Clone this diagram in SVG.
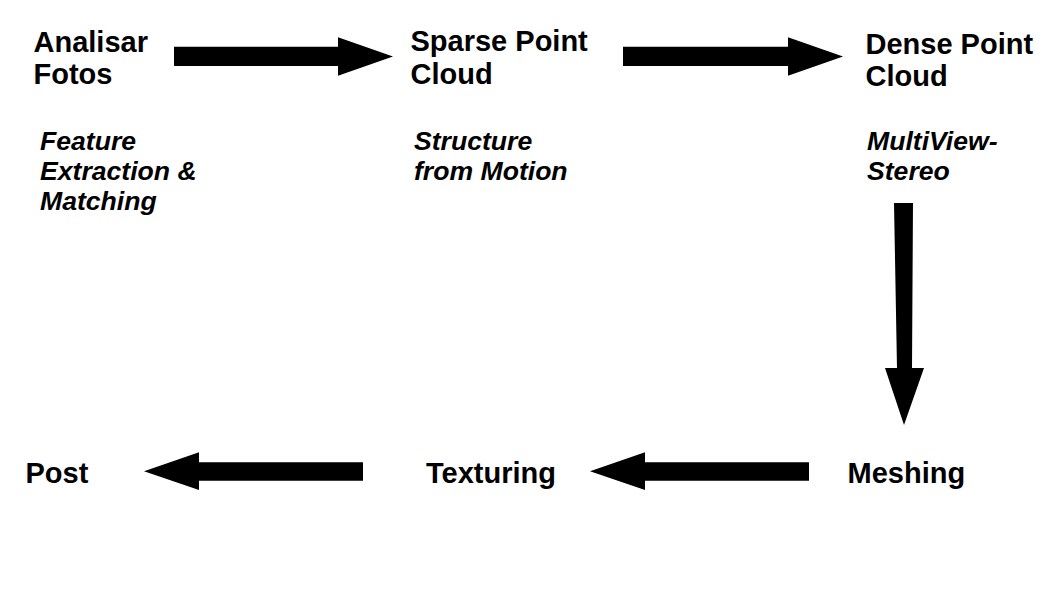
<svg xmlns="http://www.w3.org/2000/svg" width="1058" height="595" viewBox="0 0 1058 595">
<style>
.h{font-family:"Liberation Sans",Arial,sans-serif;font-weight:bold;font-size:29px;fill:#000}
.s{font-family:"Liberation Sans",Arial,sans-serif;font-weight:bold;font-style:italic;font-size:26.6px;fill:#000}
.a{fill:#000;stroke:none}
</style>
<rect width="1058" height="595" fill="#fff"/>
<g id="connectors">
<polygon class="a" points="174,46.7 338,46.7 338,37.3 393,56.5 338,75.7 338,66 174,66"/>
<polygon class="a" points="623,46.7 788,46.7 788,37.3 843,56.5 788,75.7 788,66 623,66"/>
<polygon class="a" points="894,203 913,203 912,368 924,368 904,425 885,368 897,368"/>
<polygon class="a" points="809,462.3 645,462.3 645,452.3 590,471.2 645,490 645,480.7 809,480.7"/>
<polygon class="a" points="363,462.3 199,462.3 199,452.3 144,471.2 199,490 199,480.7 363,480.7"/>
</g>
<g id="node-analisar">
<text class="h" x="33.5" y="52">Analisar</text>
<text class="h" x="33.5" y="83.5">Fotos</text>
<text class="s" x="40" y="150">Feature</text>
<text class="s" x="40" y="180">Extraction &amp;</text>
<text class="s" x="40" y="209.5">Matching</text>
</g>
<g id="node-sparse">
<text class="h" x="410.5" y="51">Sparse Point</text>
<text class="h" x="410.5" y="83.5">Cloud</text>
<text class="s" x="414" y="150">Structure</text>
<text class="s" x="414" y="180">from Motion</text>
</g>
<g id="node-dense">
<text class="h" x="865.5" y="54">Dense Point</text>
<text class="h" x="865.5" y="86">Cloud</text>
<text class="s" x="867" y="150">MultiView-</text>
<text class="s" x="867" y="179.5">Stereo</text>
</g>
<g id="node-meshing">
<text class="h" x="847.5" y="483">Meshing</text>
</g>
<g id="node-texturing">
<text class="h" x="426" y="483">Texturing</text>
</g>
<g id="node-post">
<text class="h" x="25.5" y="483">Post</text>
</g>
</svg>
